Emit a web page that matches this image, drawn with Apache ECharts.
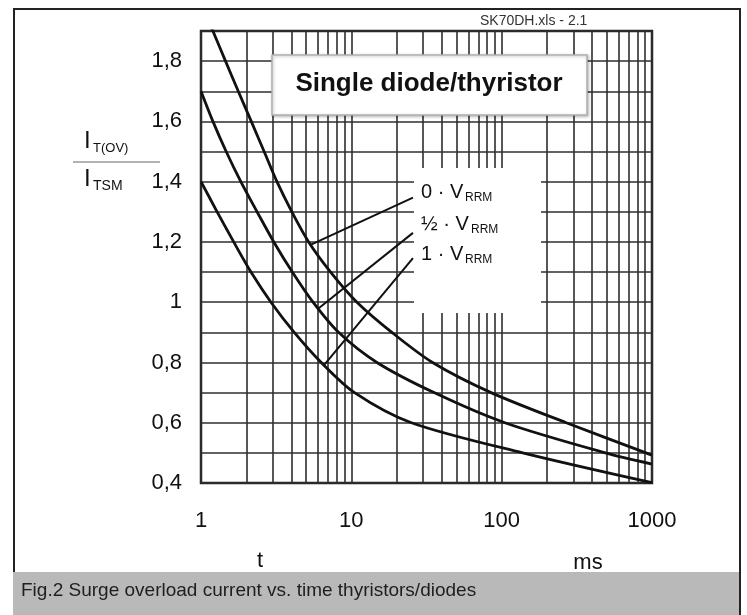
<!DOCTYPE html>
<html><head><meta charset="utf-8">
<script src="https://cdn.jsdelivr.net/npm/echarts@6/dist/echarts.min.js"></script>
<style>html,body{margin:0;padding:0;background:#fff}#c{width:747px;height:615px}</style>
</head><body><div id="c"></div>
<script>
// Curve 0·VRRM (top)
const t0 = [1, 1.2, 1.456, 1.77, 2.16, 2.63, 3.2, 4.02, 5.2, 7.28, 10.9, 18.6, 34.7, 85, 269, 912, 1000];
const v0 = [1.995, 1.9, 1.8, 1.7, 1.6, 1.5, 1.4, 1.3, 1.2, 1.1, 1.0, 0.9, 0.8, 0.7, 0.6, 0.5, 0.492];
// Curve ½·VRRM (middle)
const tHalf = [1, 1.2, 1.47, 1.84, 2.36, 3.05, 4.05, 5.56, 8.22, 14.8, 35.5, 105, 490, 1000];
const vHalf = [1.7, 1.6, 1.5, 1.4, 1.3, 1.2, 1.1, 1.0, 0.9, 0.8, 0.7, 0.6, 0.5, 0.463];
// Curve 1·VRRM (bottom)
const t1 = [1, 1.28, 1.65, 2.15, 2.92, 4.17, 6.31, 10.5, 25.1, 138, 1000];
const v1 = [1.4, 1.3, 1.2, 1.1, 1.0, 0.9, 0.8, 0.7, 0.6, 0.5, 0.401];
// Leader lines (label -> curve), in data units [t, value]
const leader0 = [[25.7, 1.347], [5.35, 1.19]];
const leaderHalf = [[25.7, 1.23], [6.07, 0.98]];
const leader1 = [[25.7, 1.146], [6.56, 0.79]];
// Axis ticks
const xTickLabels = ['1', '10', '100', '1000'];
const xMinorGrid = [2,3,4,5,6,7,8,9,20,30,40,50,60,70,80,90,200,300,400,500,600,700,800,900];
const seriesLabels = ['0 · V', '½ · V', '1 · V'];
const subLabel = 'RRM';
const titleText = 'Single diode/thyristor';
const captionText = 'Fig.2 Surge overload current vs. time thyristors/diodes';
const refText = 'SK70DH.xls - 2.1';

const FF = '"Liberation Sans", Arial, Helvetica, sans-serif';
const zip = (a, b) => a.map((x, i) => [x, b[i]]);
const curveStyle = { color: '#111', width: 2.8 };
const leaderStyle = { color: '#111', width: 2 };

const chart = echarts.init(document.getElementById('c'));
const gridLine = { color: '#2e2e2e', width: 1.6 };

const labelEls = [];
const labelY = [192, 224, 254];
const subX = [465, 471, 465];
seriesLabels.forEach((s, i) => {
  labelEls.push({ type: 'text', z: 120, style: { text: s, x: 421, y: labelY[i], fontSize: 20, fontFamily: FF, fill: '#111', textVerticalAlign: 'middle', verticalAlign: 'middle' } });
  labelEls.push({ type: 'text', z: 120, style: { text: subLabel, x: subX[i], y: labelY[i] + 6, fontSize: 12, fontFamily: FF, fill: '#111', textVerticalAlign: 'middle', verticalAlign: 'middle' } });
});

const curve = (data) => ({ type: 'line', z: 10, data, symbol: 'none', smooth: 0.3, lineStyle: curveStyle, silent: true });

chart.setOption({
  animation: false,
  backgroundColor: '#fff',
  grid: { left: 201, right: 95, top: 31, bottom: 132, show: true, borderColor: '#222', borderWidth: 2.5, backgroundColor: '#fff' },
  xAxis: {
    type: 'log', logBase: 10, min: 1, max: 1000,
    axisLine: { show: false }, axisTick: { show: false },
    axisLabel: { fontSize: 22, fontFamily: FF, color: '#111', margin: 27,
      formatter: v => xTickLabels[Math.round(Math.log10(v))] },
    splitLine: { show: true, lineStyle: gridLine }
  },
  yAxis: {
    type: 'value', min: 0.4, max: 1.9, interval: 0.1,
    axisLine: { show: false }, axisTick: { show: false },
    axisLabel: { fontSize: 22, fontFamily: FF, color: '#111', margin: 19,
      formatter: v => { const k = Math.round(v * 10); if (k % 2 || k > 18) return ''; return String(k / 10).replace('.', ','); } },
    splitLine: { show: true, lineStyle: gridLine }
  },
  series: [
    { type: 'line', z: 1, data: [], symbol: 'none', silent: true,
      markLine: { silent: true, symbol: ['none', 'none'], label: { show: false },
        lineStyle: { color: '#2e2e2e', width: 1.6, type: 'solid' },
        data: xMinorGrid.map(v => ({ xAxis: v })) } },
    curve(zip(t0, v0)),
    curve(zip(tHalf, vHalf)),
    curve(zip(t1, v1)),
    { type: 'line', z: 10, data: leader0, symbol: 'none', lineStyle: leaderStyle, silent: true },
    { type: 'line', z: 10, data: leaderHalf, symbol: 'none', lineStyle: leaderStyle, silent: true },
    { type: 'line', z: 10, data: leader1, symbol: 'none', lineStyle: leaderStyle, silent: true }
  ],
  graphic: [
    { type: 'rect', z: 90, shape: { x: 13, y: 572, width: 727, height: 43 }, style: { fill: '#b9b9b9' } },
    { type: 'polyline', z: 95, shape: { points: [[14, 572], [14, 9], [740, 9], [740, 615]] }, style: { stroke: '#222', lineWidth: 2, fill: null } },
    { type: 'text', z: 100, style: { text: captionText, x: 21, y: 591, fontSize: 19, fontFamily: FF, fill: '#1e1e1e', textVerticalAlign: 'middle', verticalAlign: 'middle' } },
    { type: 'text', z: 100, style: { text: refText, x: 480, y: 21, fontSize: 14, fontFamily: FF, fill: '#333', textVerticalAlign: 'middle', verticalAlign: 'middle' } },
    { type: 'rect', z: 100, shape: { x: 272, y: 55, width: 315, height: 60 }, style: { fill: '#fff', stroke: '#b0b0b0', lineWidth: 1.5, shadowColor: 'rgba(0,0,0,0.25)', shadowBlur: 3, shadowOffsetX: 1, shadowOffsetY: 1 } },
    { type: 'text', z: 110, style: { text: titleText, x: 429, y: 84, fontSize: 26, fontWeight: 'bold', fontFamily: FF, fill: '#111', textAlign: 'center', align: 'center', textVerticalAlign: 'middle', verticalAlign: 'middle' } },
    { type: 'rect', z: 100, shape: { x: 414, y: 168, width: 127, height: 145 }, style: { fill: '#fff' } },
    ...labelEls,
    { type: 'text', z: 100, style: { text: 'I', x: 84, y: 141, fontSize: 24, fontFamily: FF, fill: '#111', textVerticalAlign: 'middle', verticalAlign: 'middle' } },
    { type: 'text', z: 100, style: { text: 'T(OV)', x: 93, y: 148, fontSize: 13, fontFamily: FF, fill: '#111', textVerticalAlign: 'middle', verticalAlign: 'middle' } },
    { type: 'line', z: 100, shape: { x1: 73, y1: 162, x2: 160, y2: 162 }, style: { stroke: '#999', lineWidth: 1.5 } },
    { type: 'text', z: 100, style: { text: 'I', x: 84, y: 179, fontSize: 24, fontFamily: FF, fill: '#111', textVerticalAlign: 'middle', verticalAlign: 'middle' } },
    { type: 'text', z: 100, style: { text: 'TSM', x: 93, y: 186, fontSize: 14, fontFamily: FF, fill: '#111', textVerticalAlign: 'middle', verticalAlign: 'middle' } },
    { type: 'text', z: 100, style: { text: 't', x: 260, y: 561, fontSize: 22, fontFamily: FF, fill: '#111', textAlign: 'center', align: 'center', textVerticalAlign: 'middle', verticalAlign: 'middle' } },
    { type: 'text', z: 100, style: { text: 'ms', x: 588, y: 563, fontSize: 22, fontFamily: FF, fill: '#111', textAlign: 'center', align: 'center', textVerticalAlign: 'middle', verticalAlign: 'middle' } }
  ]
});
</script>
</body></html>
